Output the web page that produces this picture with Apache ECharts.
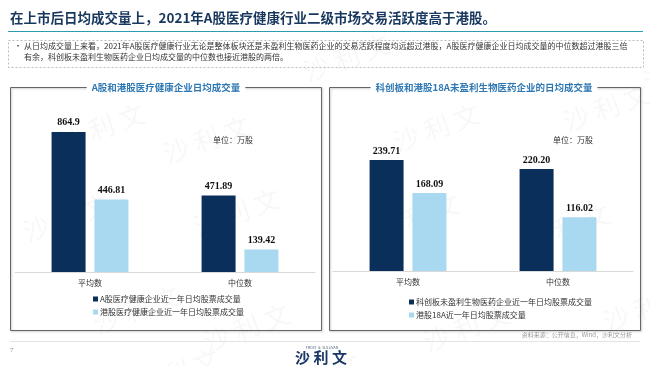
<!DOCTYPE html>
<html>
<head>
<meta charset="utf-8">
<script src="https://cdn.jsdelivr.net/npm/echarts@6/dist/echarts.min.js"></script>
<style>
html,body{margin:0;padding:0;background:#fff;}
#c{width:650px;height:366px;}
</style>
</head>
<body>
<div id="c"></div>
<script>
// ---- data ----
const categories = ['平均数', '中位数'];
const leftSeriesNames = ['A股医疗健康企业近一年日均股票成交量', '港股医疗健康企业近一年日均股票成交量'];
const leftA = [864.9, 471.89];
const leftHK = [446.81, 139.42];
const rightSeriesNames = ['科创板未盈利生物医药企业近一年日均股票成交量', '港股18A近一年日均股票成交量'];
const rightA = [239.71, 220.20];
const rightHK = [168.09, 116.02];

const DARK = '#0b2f5b';
const LIGHT = '#a9d9f0';
const CJK = '"Noto Sans CJK SC", sans-serif';
const SERIF = '"Liberation Serif", "Times New Roman", serif';

const chart = echarts.init(document.getElementById('c'));

function barSeries(name, data, color, idx, decs) {
  return {
    type: 'bar', name: name, data: data,
    xAxisIndex: idx, yAxisIndex: idx,
    barWidth: 34, barGap: '26%',
    itemStyle: {color: color},
    label: {
      show: true, position: 'top', distance: 4,
      color: '#111', fontFamily: SERIF, fontWeight: 'bold', fontSize: 10,
      formatter: p => p.value.toFixed(decs[p.dataIndex])
    },
    emphasis: {disabled: true}
  };
}

const xAx = (gi) => ({
  type: 'category', gridIndex: gi, data: categories,
  axisLine: {lineStyle: {color: '#d9d9d9'}},
  axisTick: {show: false},
  axisLabel: {color: '#333', fontFamily: CJK, fontSize: 8, margin: 7}
});
const yAx = (gi, max) => ({
  type: 'value', gridIndex: gi, min: 0, max: max, show: false,
  splitLine: {show: false}
});

const wm = [];
const wmPos = [[55,100],[160,112],[20,190],[190,185],[90,282],[200,300],[390,100],[560,80],[370,190],[520,200],[600,280],[420,300],[130,345],[270,350],[640,40],[300,30]];
wmPos.forEach(p => wm.push({
  type: 'text', left: p[0], top: p[1], rotation: 0.35, silent: true, z: 0,
  style: {text: '沙 利 文', font: '26px ' + CJK, fill: 'rgba(0,0,0,0.03)'}
}));

chart.setOption({
  animation: false,
  grid: [
    {left: 15, right: 335, top: 110, bottom: 94},
    {left: 333, right: 17, top: 132, bottom: 95}
  ],
  xAxis: [xAx(0), xAx(1)],
  yAxis: [yAx(0, 1000), yAx(1, 300)],
  legend: [
    {
      data: leftSeriesNames, orient: 'vertical', left: 88, top: 290,
      itemWidth: 5, itemHeight: 5, itemGap: 5, icon: 'rect',
      textStyle: {fontFamily: CJK, fontSize: 8, color: '#333', padding: [0,0,0,-3]},
      selectedMode: false
    },
    {
      data: rightSeriesNames, orient: 'vertical', left: 404, top: 293,
      itemWidth: 5, itemHeight: 5, itemGap: 5, icon: 'rect',
      textStyle: {fontFamily: CJK, fontSize: 8, color: '#333', padding: [0,0,0,-3]},
      selectedMode: false
    }
  ],
  series: [
    barSeries(leftSeriesNames[0], leftA, DARK, 0, [1, 2]),
    barSeries(leftSeriesNames[1], leftHK, LIGHT, 0, [2, 2]),
    barSeries(rightSeriesNames[0], rightA, DARK, 1, [2, 2]),
    barSeries(rightSeriesNames[1], rightHK, LIGHT, 1, [2, 2])
  ],
  graphic: wm.concat([
    // title
    {type: 'text', left: 10, top: 11, z: 10,
     style: {text: '在上市后日均成交量上，2021年A股医疗健康行业二级市场交易活跃度高于港股。', font: 'bold 13.5px ' + CJK, fill: '#17375e'}},
    {type: 'line', shape: {x1: 8, y1: 31.5, x2: 643, y2: 31.5}, style: {stroke: '#2d9bb0', lineWidth: 1.2}},
    // dashed box
    {type: 'rect', shape: {x: 8.5, y: 40.5, width: 635, height: 27}, style: {fill: 'none', stroke: '#aaa', lineWidth: 0.8, lineDash: [2, 2]}},
    {type: 'text', left: 14, top: 42, style: {text: '•', font: '8px ' + CJK, fill: '#333'}},
    {type: 'text', left: 24, top: 42, style: {text: '从日均成交量上来看，2021年A股医疗健康行业无论是整体板块还是未盈利生物医药企业的交易活跃程度均远超过港股，A股医疗健康企业日均成交量的中位数超过港股三倍', font: '8px ' + CJK, fill: '#333'}},
    {type: 'text', left: 24, top: 53, style: {text: '有余，科创板未盈利生物医药企业日均成交量的中位数也接近港股的两倍。', font: '8px ' + CJK, fill: '#333'}},
    // panels
    {type: 'rect', shape: {x: 10.5, y: 87.5, width: 311, height: 243}, style: {fill: 'none', stroke: '#666', lineWidth: 1, shadowBlur: 2, shadowOffsetX: 1, shadowOffsetY: 1, shadowColor: 'rgba(0,0,0,0.25)'}},
    {type: 'rect', shape: {x: 329.5, y: 87.5, width: 311, height: 243}, style: {fill: 'none', stroke: '#666', lineWidth: 1, shadowBlur: 2, shadowOffsetX: 1, shadowOffsetY: 1, shadowColor: 'rgba(0,0,0,0.25)'}},
    {type: 'text', x: 166, y: 87.5, z: 10,
     style: {text: 'A股和港股医疗健康企业日均成交量', font: 'bold 9.5px ' + CJK, fill: '#2e78b4', textAlign: 'center', textVerticalAlign: 'middle', backgroundColor: '#fff', padding: [0, 5]}},
    {type: 'text', x: 484, y: 87.5, z: 10,
     style: {text: '科创板和港股18A未盈利生物医药企业的日均成交量', font: 'bold 9.5px ' + CJK, fill: '#2e78b4', textAlign: 'center', textVerticalAlign: 'middle', backgroundColor: '#fff', padding: [0, 5]}},
    {type: 'text', left: 213, top: 136, style: {text: '单位：万股', font: '8px ' + CJK, fill: '#333'}},
    {type: 'text', left: 553, top: 136, style: {text: '单位：万股', font: '8px ' + CJK, fill: '#333'}},
    // source + footer
    {type: 'text', right: 18, top: 332, style: {text: '资料来源：公开信息，Wind，沙利文分析', font: '6px ' + CJK, fill: '#999'}},
    {type: 'line', shape: {x1: 10, y1: 341.5, x2: 640, y2: 341.5}, style: {stroke: '#e3e3e3', lineWidth: 1}},
    {type: 'text', left: 10, top: 347, style: {text: '7', font: '7px ' + SERIF, fill: '#888'}},
    {type: 'text', x: 322, y: 346, style: {text: 'FROST  &  SULLIVAN', font: '3.5px ' + CJK, fill: '#4a5d7a', textAlign: 'center'}},
    {type: 'text', x: 321, y: 350, style: {text: '沙 利 文', font: 'bold 15px ' + CJK, fill: '#1b3766', textAlign: 'center'}}
  ])
});
</script>
</body>
</html>
